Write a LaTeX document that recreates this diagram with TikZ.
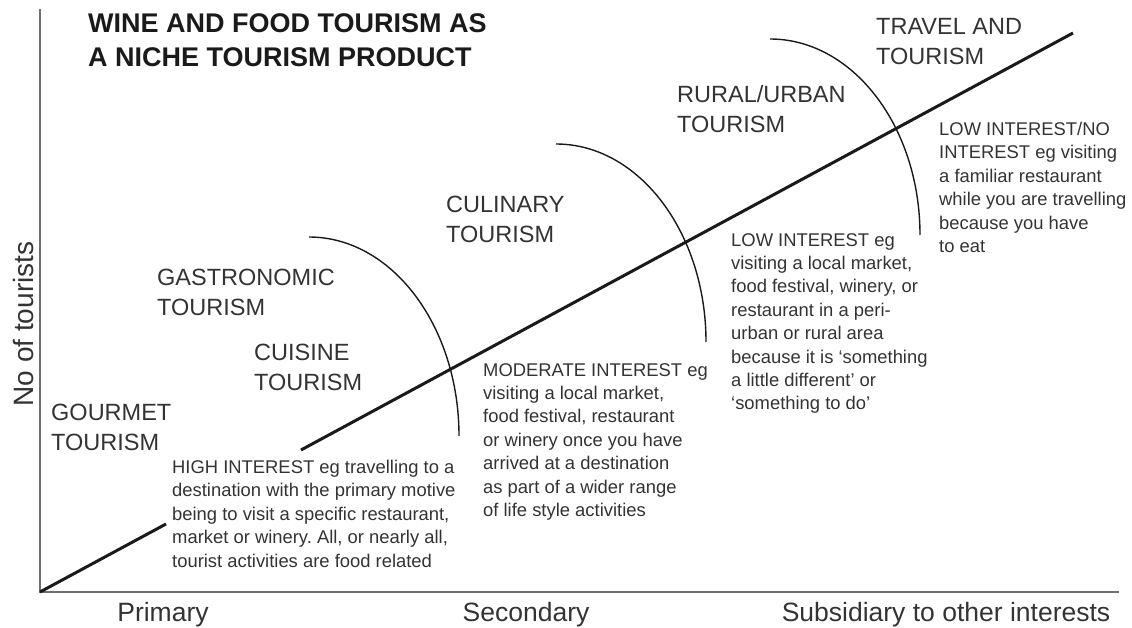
\documentclass[tikz,border=0pt]{standalone}
\usepackage{fontspec}
\setmainfont{Liberation Sans}
\usepackage{tikz}
\frenchspacing
\definecolor{inkgray}{HTML}{333333}
\definecolor{axisgray}{HTML}{6E6E6E}
\definecolor{darkink}{HTML}{1A1A1A}
\tikzstyle{niche} = [anchor=north west, inner sep=0pt, align=left, text=inkgray, font=\fontsize{23.5}{30}\selectfont]
\tikzstyle{interest} = [anchor=north west, inner sep=0pt, align=left, text=inkgray, font=\fontsize{18.4}{23.4}\selectfont]
\tikzstyle{axislabel} = [anchor=base, inner sep=0pt, text=inkgray, font=\fontsize{26.5}{30}\selectfont]
\tikzstyle{spread} = [line width=1.4pt, darkink]

\begin{document}
\begin{tikzpicture}[x=1pt,y=-1pt]
			\useasboundingbox (0,0) rectangle (1132,628);
			\coordinate (o) at (40,592);
			\coordinate (ytop) at (40,9);
			\coordinate (xend) at (1119,592);
			\coordinate (lowend) at (166,524);
			\coordinate (upstart) at (301,450);
			\coordinate (upend) at (1073,33);
			\draw[line width=1.6pt,axisgray] (ytop)--(o)--(xend);
			\draw[line width=3pt,darkink] (o)--(lowend);
			\draw[line width=3pt,darkink] (upstart)--(upend);
			\draw[spread] (309,237) arc[start angle=270, end angle=360, x radius=150, y radius=199];
			\draw[spread] (556,144) arc[start angle=270, end angle=360, x radius=150, y radius=198];
			\draw[spread] (770,39) arc[start angle=270, end angle=360, x radius=150, y radius=196];
			\node[niche, text=darkink, font=\bfseries\fontsize{27}{34}\selectfont] (title) at (88,13) {WINE AND FOOD TOURISM AS\\A NICHE TOURISM PRODUCT};
			\node[niche] (gourmet) at (51,404) {GOURMET\\TOURISM};
			\node[niche] (gastro) at (157,269) {GASTRONOMIC\\TOURISM};
			\node[niche] (cuisine) at (254,344) {CUISINE\\TOURISM};
			\node[niche] (culinary) at (446,196) {CULINARY\\TOURISM};
			\node[niche] (rural) at (677,85) {RURAL/URBAN\\TOURISM};
			\node[niche] (travel) at (876,18) {TRAVEL AND\\TOURISM};
			\node[interest] (high) at (172,460) {HIGH INTEREST eg travelling to a\\destination with the primary motive\\being to visit a specific restaurant,\\market or winery. All, or nearly all,\\tourist activities are food related};
			\node[interest] (moderate) at (483,363) {MODERATE INTEREST eg\\visiting a local market,\\food festival, restaurant\\or winery once you have\\arrived at a destination\\as part of a wider range\\of life style activities};
			\node[interest] (low) at (731,233) {LOW INTEREST eg\\visiting a local market,\\food festival, winery, or\\restaurant in a peri-\\urban or rural area\\because it is ‘something\\a little different’ or\\‘something to do’};
			\node[interest] (lowno) at (939,122) {LOW INTEREST/NO\\INTEREST eg visiting\\a familiar restaurant\\while you are travelling\\because you have\\to eat};
			\node[axislabel] (primary) at (163,621) {Primary};
			\node[axislabel] (secondary) at (526,621) {Secondary};
			\node[axislabel] (subsidiary) at (946,621) {Subsidiary to other interests};
			\node[axislabel, anchor=center, rotate=90, font=\fontsize{28}{30}\selectfont] (ylabel) at (23,324) {No of tourists};
		\end{tikzpicture}
\end{document}
